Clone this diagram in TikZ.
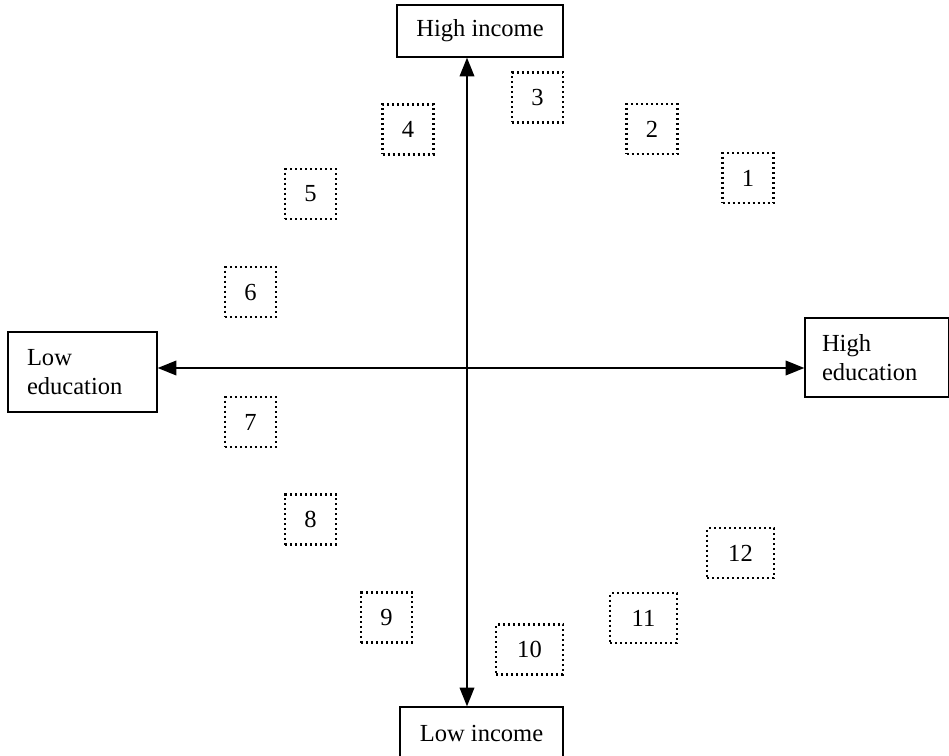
\documentclass[tikz,border=0pt]{standalone}
\usepackage{fontspec}
\setmainfont{Liberation Serif}
\usetikzlibrary{arrows.meta}
\begin{document}
\begin{tikzpicture}[x=0.75pt,y=-0.75pt,
  every node/.style={font=\fontsize{18.4}{21.75}\selectfont, inner sep=0pt},
  axisbox/.style={draw, line width=1pt},
  numbox/.style={draw, line width=1.9pt, dash pattern=on 1.5pt off 2.25pt, minimum height=37.5pt},
  sq/.style={numbox, minimum width=38pt},
  wide/.style={numbox, minimum width=50pt},
  axisline/.style={line width=1pt, {Triangle[length=14pt,width=11pt]}-{Triangle[length=14pt,width=11pt]}}
]
\useasboundingbox (0,0) rectangle (949,756);
% axis boxes
\node[axisbox, minimum width=124.5pt, minimum height=39pt] (hi) at (480,31) {High income};
\node[axisbox, minimum width=122.25pt, minimum height=39pt, text depth=0pt] (lo) at (481.5,733) {Low income};
\node[axisbox, minimum width=111.75pt, minimum height=60pt, text width=83.25pt, inner xsep=14.25pt, align=left] (le) at (82.5,372) {Low\\education};
\node[axisbox, minimum width=108pt, minimum height=59.25pt, text width=82.5pt, inner xsep=12.75pt, align=left] (he) at (877,357.5) {High\\education};
\coordinate (c) at (467,368);
% axes
\draw[axisline] (c |- hi.south) -- (c |- lo.north);
\draw[axisline] (le.east |- c) -- (he.west |- c);
% numbered boxes
\node[sq] (n1) at (748,178) {1};
\node[sq] (n2) at (652,129) {2};
\node[sq] (n3) at (537.5,97.5) {3};
\node[sq] (n4) at (408,129.5) {4};
\node[sq] (n5) at (310.5,194) {5};
\node[sq] (n6) at (250.5,292) {6};
\node[sq] (n7) at (250.5,422) {7};
\node[sq] (n8) at (310.5,519.5) {8};
\node[sq] (n9) at (386.5,617.5) {9};
\node[wide] (n10) at (529.5,649.5) {10};
\node[wide] (n11) at (643.5,618) {11};
\node[wide] (n12) at (740.5,553) {12};
\end{tikzpicture}
\end{document}
